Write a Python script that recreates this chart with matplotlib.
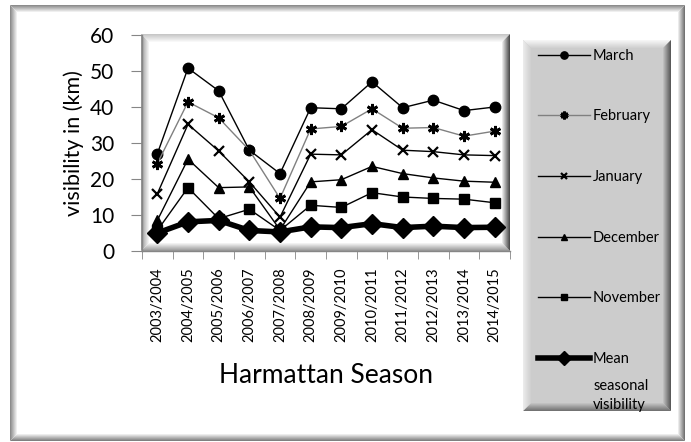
import matplotlib
matplotlib.use("Agg")
import matplotlib.pyplot as plt
from matplotlib.patches import Polygon, Rectangle

plt.rcParams['font.family'] = ['Lato', 'DejaVu Sans']

seasons = ["2003/2004", "2004/2005", "2005/2006", "2006/2007", "2007/2008", "2008/2009",
           "2009/2010", "2010/2011", "2011/2012", "2012/2013", "2013/2014", "2014/2015"]
march = [27.0, 50.8, 44.5, 28.0, 21.5, 39.8, 39.5, 47.0, 39.8, 41.9, 39.0, 40.0]
february = [24.3, 41.4, 37.0, 28.0, 14.6, 33.9, 34.6, 39.5, 34.1, 34.3, 31.9, 33.3]
january = [15.9, 35.2, 27.8, 19.2, 9.4, 26.9, 26.7, 33.7, 28.0, 27.6, 26.7, 26.5]
december = [8.5, 25.5, 17.6, 17.8, 5.9, 19.2, 19.8, 23.5, 21.5, 20.3, 19.4, 19.1]
november = [5.7, 17.6, 9.0, 11.6, 5.7, 12.7, 12.1, 16.2, 15.0, 14.6, 14.4, 13.4]
mean_vis = [5.0, 8.1, 8.5, 5.7, 5.3, 6.7, 6.5, 7.6, 6.5, 6.9, 6.5, 6.6]

W, H = 691, 442
fig = plt.figure(figsize=(W / 100, H / 100), dpi=100)
fig.patch.set_facecolor('white')

# background overlay axes in pixel coordinates
bg = fig.add_axes([0, 0, 1, 1], zorder=0)
bg.set_xlim(0, W)
bg.set_ylim(H, 0)
bg.axis('off')


def lerp(a, b, t):
    v = a + (b - a) * t
    return (v, v, v)


def bevel(ax, x0, y0, x1, y1, n, top, left, bottom, right):
    for i in range(n):
        t = i / max(n - 1, 1)
        ax.add_patch(Polygon([(x0 + i, y0 + i), (x1 - i, y0 + i), (x1 - i - 1, y0 + i + 1), (x0 + i + 1, y0 + i + 1)],
                             closed=True, facecolor=lerp(*top, t), edgecolor='none', lw=0))
        ax.add_patch(Polygon([(x0 + i, y1 - i), (x1 - i, y1 - i), (x1 - i - 1, y1 - i - 1), (x0 + i + 1, y1 - i - 1)],
                             closed=True, facecolor=lerp(*bottom, t), edgecolor='none', lw=0))
        ax.add_patch(Polygon([(x0 + i, y0 + i), (x0 + i + 1, y0 + i + 1), (x0 + i + 1, y1 - i - 1), (x0 + i, y1 - i)],
                             closed=True, facecolor=lerp(*left, t), edgecolor='none', lw=0))
        ax.add_patch(Polygon([(x1 - i, y0 + i), (x1 - i - 1, y0 + i + 1), (x1 - i - 1, y1 - i - 1), (x1 - i, y1 - i)],
                             closed=True, facecolor=lerp(*right, t), edgecolor='none', lw=0))


# outer chart frame
bevel(bg, 10, 5, 685, 441, 8, (0.55, 1.0), (0.55, 1.0), (0.5, 1.0), (0.45, 1.0))
# plot area frame
bevel(bg, 141, 34, 510, 251, 9, (0.78, 1.0), (0.6, 1.0), (0.6, 1.0), (0.3, 1.0))
# legend box
bg.add_patch(Rectangle((523, 40), 148, 371, facecolor=(0.8, 0.8, 0.8), edgecolor='none'))
bevel(bg, 523, 40, 671, 411, 9, (0.96, 0.8), (0.92, 0.8), (0.45, 0.8), (0.35, 0.8))

# main axes
px0, py0, px1, py1 = 142, 35, 510, 251
ax = fig.add_axes([px0 / W, 1 - py1 / H, (px1 - px0) / W, (py1 - py0) / H], zorder=2)
ax.set_facecolor('none')

x = list(range(len(seasons)))
ax.plot(x, march, color='black', lw=1.0, marker='o', ms=7.5, mfc='black', mec='black', label='March', zorder=3)
ax.plot(x, february, color='#808080', lw=1.0, marker=(6, 2, 0), ms=8, mfc='black', mec='black', mew=2.0,
        label='February', zorder=3)
ax.plot(x, january, color='black', lw=1.0, marker='x', ms=7, mec='black', mew=1.6, label='January', zorder=3)
ax.plot(x, december, color='black', lw=1.0, marker='^', ms=7, mfc='black', mec='black', label='December', zorder=3)
ax.plot(x, november, color='black', lw=1.0, marker='s', ms=6.5, mfc='black', mec='black', label='November', zorder=3)
ax.plot(x, mean_vis, color='black', lw=4.0, marker='D', ms=10, mfc='black', mec='black',
        label='Mean', zorder=4)

ax.set_xlim(-0.5, len(seasons) - 0.5)
ax.set_ylim(0, 60)
ax.set_yticks(range(0, 61, 10))
ax.set_xticks(x)
ax.set_xticklabels(seasons, rotation=90, fontsize=10.5)
ax.set_xticks([i - 0.5 for i in range(len(seasons) + 1)], minor=True)
ax.tick_params(axis='x', which='major', length=0, pad=12)
ax.tick_params(axis='x', which='minor', length=6, color='#868686', direction='out')
ax.tick_params(axis='y', which='major', length=8, color='#868686', direction='out', labelsize=15, pad=12)
for s in ['top', 'right']:
    ax.spines[s].set_visible(False)
for s in ['left', 'bottom']:
    ax.spines[s].set_color('#868686')
    ax.spines[s].set_linewidth(1.0)

ax.set_ylabel('visibility in (km)', fontsize=15.5, labelpad=4)
ax.set_xlabel('Harmattan Season', fontsize=19, labelpad=15)

leg_fs = 10.5
leg = ax.legend(loc='upper left', bbox_to_anchor=(526 / W, 1 - 37 / H), bbox_transform=fig.transFigure,
                frameon=False, fontsize=leg_fs, handlelength=3.6, handletextpad=0.2, labelspacing=3.2,
                borderpad=0.3, markerscale=0.7)
leg.set_zorder(5)

fig.canvas.draw()
tb = leg.get_texts()[-1].get_window_extent()
fig.text(tb.x0 / W, (tb.y0 - 13) / H, 'seasonal\nvisibility', ha='left', va='top', fontsize=leg_fs,
         linespacing=1.45, zorder=6)

fig.savefig('out.png', dpi=100)
